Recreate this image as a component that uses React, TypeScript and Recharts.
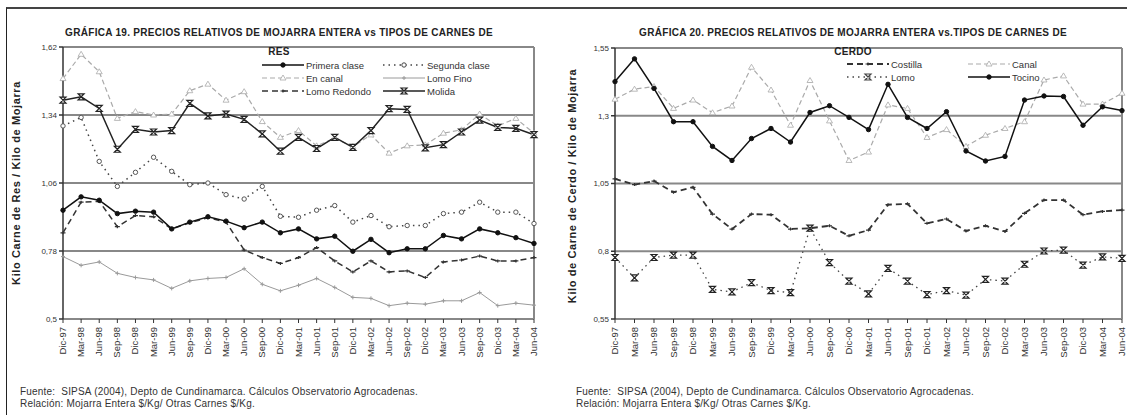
import React from 'react';
import { LineChart, Line, XAxis, YAxis, CartesianGrid, ReferenceLine } from 'recharts';

// quarterly periods, Dic-97 .. Jun-04
const months = [
  'Dic-97', 'Mar-98', 'Jun-98', 'Sep-98', 'Dic-98', 'Mar-99', 'Jun-99', 'Sep-99', 'Dic-99',
  'Mar-00', 'Jun-00', 'Sep-00', 'Dic-00', 'Mar-01', 'Jun-01', 'Sep-01', 'Dic-01', 'Mar-02',
  'Jun-02', 'Sep-02', 'Dic-02', 'Mar-03', 'Jun-03', 'Sep-03', 'Dic-03', 'Mar-04', 'Jun-04',
];

// Gráfica 19 - carnes de res
const primeraClase = [0.948, 1.003, 0.989, 0.934, 0.944, 0.94, 0.871, 0.899, 0.921, 0.903, 0.876, 0.899, 0.855, 0.871, 0.83, 0.841, 0.779, 0.828, 0.773, 0.789, 0.789, 0.844, 0.83, 0.871, 0.855, 0.835, 0.811];
const segundaClase = [1.295, 1.33, 1.149, 1.046, 1.104, 1.166, 1.108, 1.053, 1.06, 1.012, 0.994, 1.046, 0.923, 0.919, 0.948, 0.967, 0.899, 0.926, 0.88, 0.885, 0.885, 0.934, 0.94, 0.981, 0.94, 0.94, 0.893];
const enCanal = [1.49, 1.59, 1.518, 1.326, 1.354, 1.34, 1.344, 1.44, 1.467, 1.401, 1.436, 1.313, 1.248, 1.276, 1.213, 1.244, 1.21, 1.258, 1.183, 1.213, 1.217, 1.265, 1.279, 1.344, 1.295, 1.326, 1.265];
const lomoFino = [0.757, 0.721, 0.735, 0.688, 0.671, 0.661, 0.626, 0.657, 0.667, 0.671, 0.707, 0.643, 0.616, 0.639, 0.667, 0.63, 0.589, 0.585, 0.555, 0.565, 0.561, 0.575, 0.575, 0.609, 0.555, 0.565, 0.557];
const lomoRedondo = [0.855, 0.981, 0.985, 0.88, 0.926, 0.921, 0.871, 0.896, 0.917, 0.899, 0.784, 0.753, 0.729, 0.753, 0.794, 0.739, 0.694, 0.739, 0.694, 0.698, 0.671, 0.735, 0.743, 0.759, 0.739, 0.739, 0.753];
const molida = [1.401, 1.415, 1.367, 1.199, 1.281, 1.27, 1.276, 1.388, 1.336, 1.344, 1.322, 1.262, 1.191, 1.248, 1.202, 1.248, 1.207, 1.276, 1.366, 1.363, 1.205, 1.218, 1.27, 1.319, 1.289, 1.285, 1.259];

// Gráfica 20 - carnes de cerdo
const costilla = [1.067, 1.046, 1.059, 1.018, 1.036, 0.937, 0.882, 0.937, 0.935, 0.882, 0.885, 0.894, 0.857, 0.878, 0.972, 0.975, 0.903, 0.919, 0.875, 0.894, 0.873, 0.94, 0.989, 0.989, 0.935, 0.947, 0.952];
const canal = [1.361, 1.398, 1.408, 1.327, 1.358, 1.311, 1.336, 1.479, 1.395, 1.265, 1.43, 1.281, 1.135, 1.166, 1.34, 1.327, 1.22, 1.249, 1.187, 1.228, 1.253, 1.278, 1.432, 1.447, 1.343, 1.343, 1.383];
const lomo = [0.777, 0.702, 0.777, 0.786, 0.786, 0.659, 0.65, 0.684, 0.655, 0.647, 0.885, 0.758, 0.69, 0.643, 0.737, 0.69, 0.64, 0.655, 0.638, 0.696, 0.69, 0.752, 0.801, 0.804, 0.749, 0.779, 0.774];
const tocino = [1.426, 1.51, 1.401, 1.278, 1.278, 1.187, 1.135, 1.216, 1.253, 1.203, 1.312, 1.337, 1.294, 1.249, 1.416, 1.294, 1.253, 1.315, 1.17, 1.133, 1.15, 1.358, 1.373, 1.371, 1.265, 1.333, 1.319];

const resTicks = [0.5, 0.78, 1.06, 1.34, 1.62];
const resTickLabels = ['0,5', '0,78', '1,06', '1,34', '1,62'];
const cerdoTicks = [0.55, 0.8, 1.05, 1.3, 1.55];
const cerdoTickLabels = ['0,55', '0,8', '1,05', '1,3', '1,55'];

const resData = months.map((m, i) => ({
  mes: m,
  primera: primeraClase[i],
  segunda: segundaClase[i],
  canal: enCanal[i],
  fino: lomoFino[i],
  redondo: lomoRedondo[i],
  molida: molida[i],
}));

const cerdoData = months.map((m, i) => ({
  mes: m,
  costilla: costilla[i],
  canal: canal[i],
  lomo: lomo[i],
  tocino: tocino[i],
}));

const FONT = '"Liberation Sans", Arial, sans-serif';

// marker shapes
type MarkProps = { cx?: number; cy?: number; color: string };
const FilledDot = ({ cx = 0, cy = 0, color }: MarkProps) => <circle cx={cx} cy={cy} r={2.2} fill={color} stroke={color} />;
const HollowDot = ({ cx = 0, cy = 0, color }: MarkProps) => <circle cx={cx} cy={cy} r={2.2} fill="#fff" stroke={color} strokeWidth={1} />;
const Triangle = ({ cx = 0, cy = 0, color }: MarkProps) => (
  <path d={`M${cx},${cy - 3} L${cx + 3},${cy + 2} L${cx - 3},${cy + 2} Z`} fill="#fff" stroke={color} strokeWidth={0.8} />
);
const Plus = ({ cx = 0, cy = 0, color }: MarkProps) => (
  <path d={`M${cx - 2},${cy} L${cx + 2},${cy} M${cx},${cy - 2} L${cx},${cy + 2}`} stroke={color} strokeWidth={1} />
);
const Hourglass = ({ cx = 0, cy = 0, color }: MarkProps) => (
  <path d={`M${cx - 3},${cy - 3} L${cx + 3},${cy - 3} L${cx - 3},${cy + 3} L${cx + 3},${cy + 3} Z`} fill="#fff" stroke={color} strokeWidth={1.2} />
);
const SmallDash = ({ cx = 0, cy = 0, color }: MarkProps) => (
  <path d={`M${cx - 2.5},${cy} L${cx + 2.5},${cy} M${cx},${cy - 1.5} L${cx},${cy + 1.5}`} stroke={color} strokeWidth={1.2} />
);

const marker = (Shape: React.FC<MarkProps>, color: string) => (p: any) => (
  <Shape key={`m-${p.index}`} cx={p.cx} cy={p.cy} color={color} />
);

const VTick = (props: any) => {
  const { x, y, payload } = props;
  const tx = x - 0.5;
  return (
    <text
      x={tx}
      y={y + 2}
      transform={`rotate(-90, ${tx}, ${y + 2})`}
      textAnchor="end"
      dominantBaseline="central"
      fontSize={9.5}
      fontFamily={FONT}
      fill="#333"
    >
      {payload.value}
    </text>
  );
};

const LegendItem = ({ x, y, label, color, dash, width = 1.5, Shape }: any) => (
  <div style={{ position: 'absolute', left: x, top: y - 6, height: 12, display: 'flex', alignItems: 'center', whiteSpace: 'nowrap' }}>
    <svg width={42} height={12} style={{ display: 'block' }}>
      <line x1={0} y1={6} x2={42} y2={6} stroke={color} strokeWidth={width} strokeDasharray={dash} />
      <Shape cx={21} cy={6} color={color} />
    </svg>
    <span style={{ fontFamily: FONT, fontSize: 9.5, color: '#333', marginLeft: 2 }}>{label}</span>
  </div>
);

const textStyle: React.CSSProperties = { position: 'absolute', fontFamily: FONT, color: '#222', whiteSpace: 'nowrap' };
const titleStyle: React.CSSProperties = { ...textStyle, transform: 'translateX(-50%)', fontSize: 10, fontWeight: 'bold', letterSpacing: 0.3 };
const yLabelStyle: React.CSSProperties = { ...textStyle, transform: 'translate(-50%, -50%) rotate(-90deg)', fontSize: 11, fontWeight: 'bold', letterSpacing: 0.6 };

const axisStroke = '#888';

export default function App() {
  return (
    <div style={{ position: 'absolute', left: 0, top: 0, width: 1127, height: 415, overflow: 'hidden', background: '#fff' }}>
      <div style={{ position: 'absolute', left: 6, top: 7, width: 1200, height: 500, borderTop: '2px solid #444', borderLeft: '1.5px solid #222' }} />

      {/* Gráfica 19 */}
      <div style={{ position: 'absolute', left: 0, top: 0 }}>
        <LineChart width={560} height={415} data={resData} margin={{ top: 47, right: 26, left: 33, bottom: 36 }}>
          <CartesianGrid vertical={false} stroke={axisStroke} strokeWidth={2} horizontalValues={resTicks} />
          <XAxis dataKey="mes" scale="point" interval={0} height={60} tick={<VTick />} tickSize={4} stroke={axisStroke} strokeWidth={2} tickLine={{ stroke: '#333', strokeWidth: 1 }} />
          <YAxis width={30} domain={[0.5, 1.62]} ticks={resTicks} interval={0} tickSize={4} stroke="#333" strokeWidth={1.5}
            tickFormatter={(v: number) => resTickLabels[resTicks.indexOf(v)]}
            tick={{ fontSize: 8, fontFamily: FONT, fill: '#333' }} />
          <ReferenceLine x={months[months.length - 1]} stroke={axisStroke} strokeWidth={2} />
          <Line dataKey="fino" isAnimationActive={false} stroke="#9a9a9a" strokeWidth={1} dot={marker(Plus, '#9a9a9a')} />
          <Line dataKey="canal" isAnimationActive={false} stroke="#aaa" strokeWidth={1.2} strokeDasharray="5 3" dot={marker(Triangle, '#aaa')} />
          <Line dataKey="redondo" isAnimationActive={false} stroke="#333" strokeWidth={1.5} strokeDasharray="6 4" dot={marker(SmallDash, '#333')} />
          <Line dataKey="segunda" isAnimationActive={false} stroke="#444" strokeWidth={1.5} strokeDasharray="1.5 4" dot={marker(HollowDot, '#555')} />
          <Line dataKey="molida" isAnimationActive={false} stroke="#222" strokeWidth={1.5} dot={marker(Hourglass, '#222')} />
          <Line dataKey="primera" isAnimationActive={false} stroke="#111" strokeWidth={1.5} dot={marker(FilledDot, '#111')} />
        </LineChart>
      </div>
      <div style={{ ...titleStyle, left: 279, top: 27 }}>
        GRÁFICA 19. PRECIOS RELATIVOS DE MOJARRA ENTERA vs TIPOS DE CARNES DE
      </div>
      <div style={{ ...titleStyle, left: 279, top: 46 }}>RES</div>
      <LegendItem x={262} y={65} label="Primera clase" color="#111" Shape={FilledDot} />
      <LegendItem x={383} y={65} label="Segunda clase" color="#444" dash="1.5 4" Shape={HollowDot} />
      <LegendItem x={262} y={78} label="En canal" color="#aaa" dash="5 3" width={1.2} Shape={Triangle} />
      <LegendItem x={383} y={78} label="Lomo Fino" color="#9a9a9a" width={1} Shape={Plus} />
      <LegendItem x={262} y={91} label="Lomo Redondo" color="#333" dash="6 4" Shape={SmallDash} />
      <LegendItem x={383} y={91} label="Molida" color="#222" Shape={Hourglass} />
      <div style={{ ...yLabelStyle, left: 16, top: 183 }}>
        Kilo Carne de Res / Kilo de Mojarra
      </div>
      <div style={{ ...textStyle, left: 20, top: 386, fontSize: 10, color: '#333', lineHeight: '12px', letterSpacing: 0.2 }}>
        Fuente:&nbsp;&nbsp;SIPSA (2004), Depto de Cundinamarca. Cálculos Observatorio Agrocadenas.<br />
        Relación: Mojarra Entera $/Kg/ Otras Carnes $/Kg.
      </div>

      {/* Gráfica 20 */}
      <div style={{ position: 'absolute', left: 560, top: 0 }}>
        <LineChart width={567} height={415} data={cerdoData} margin={{ top: 48, right: 5, left: 25, bottom: 36 }}>
          <CartesianGrid vertical={false} stroke={axisStroke} strokeWidth={2} horizontalValues={cerdoTicks} />
          <XAxis dataKey="mes" scale="point" interval={0} height={60} tick={<VTick />} tickSize={4} stroke={axisStroke} strokeWidth={2} tickLine={{ stroke: '#333', strokeWidth: 1 }} />
          <YAxis width={30} domain={[0.55, 1.55]} ticks={cerdoTicks} interval={0} tickSize={4} stroke="#333" strokeWidth={1.5}
            tickFormatter={(v: number) => cerdoTickLabels[cerdoTicks.indexOf(v)]}
            tick={{ fontSize: 8, fontFamily: FONT, fill: '#333' }} />
          <ReferenceLine x={months[months.length - 1]} stroke={axisStroke} strokeWidth={2} />
          <Line dataKey="canal" isAnimationActive={false} stroke="#aaa" strokeWidth={1.2} strokeDasharray="5 3" dot={marker(Triangle, '#aaa')} />
          <Line dataKey="costilla" isAnimationActive={false} stroke="#333" strokeWidth={1.8} strokeDasharray="6 4" dot={marker(SmallDash, '#333')} />
          <Line dataKey="lomo" isAnimationActive={false} stroke="#444" strokeWidth={1.3} strokeDasharray="1.5 4" dot={marker(Hourglass, '#222')} />
          <Line dataKey="tocino" isAnimationActive={false} stroke="#111" strokeWidth={1.5} dot={marker(FilledDot, '#111')} />
        </LineChart>
      </div>
      <div style={{ ...titleStyle, left: 853, top: 27 }}>
        GRÁFICA 20. PRECIOS RELATIVOS DE MOJARRA ENTERA vs.TIPOS DE CARNES DE
      </div>
      <div style={{ ...titleStyle, left: 853, top: 46 }}>CERDO</div>
      <LegendItem x={847} y={64} label="Costilla" color="#333" dash="6 4" width={1.8} Shape={SmallDash} />
      <LegendItem x={968} y={64} label="Canal" color="#aaa" dash="5 3" width={1.2} Shape={Triangle} />
      <LegendItem x={847} y={77} label="Lomo" color="#444" dash="1.5 4" width={1.3} Shape={Hourglass} />
      <LegendItem x={968} y={77} label="Tocino" color="#111" Shape={FilledDot} />
      <div style={{ ...yLabelStyle, left: 572, top: 186 }}>
        Kilo de Carne de Cerdo / Kilo de Mojarra
      </div>
      <div style={{ ...textStyle, left: 576, top: 386, fontSize: 10, color: '#333', lineHeight: '12px', letterSpacing: 0.2 }}>
        Fuente:&nbsp;&nbsp;SIPSA (2004), Depto de Cundinamarca. Cálculos Observatorio Agrocadenas.<br />
        Relación: Mojarra Entera $/Kg/ Otras Carnes $/Kg.
      </div>
    </div>
  );
}
